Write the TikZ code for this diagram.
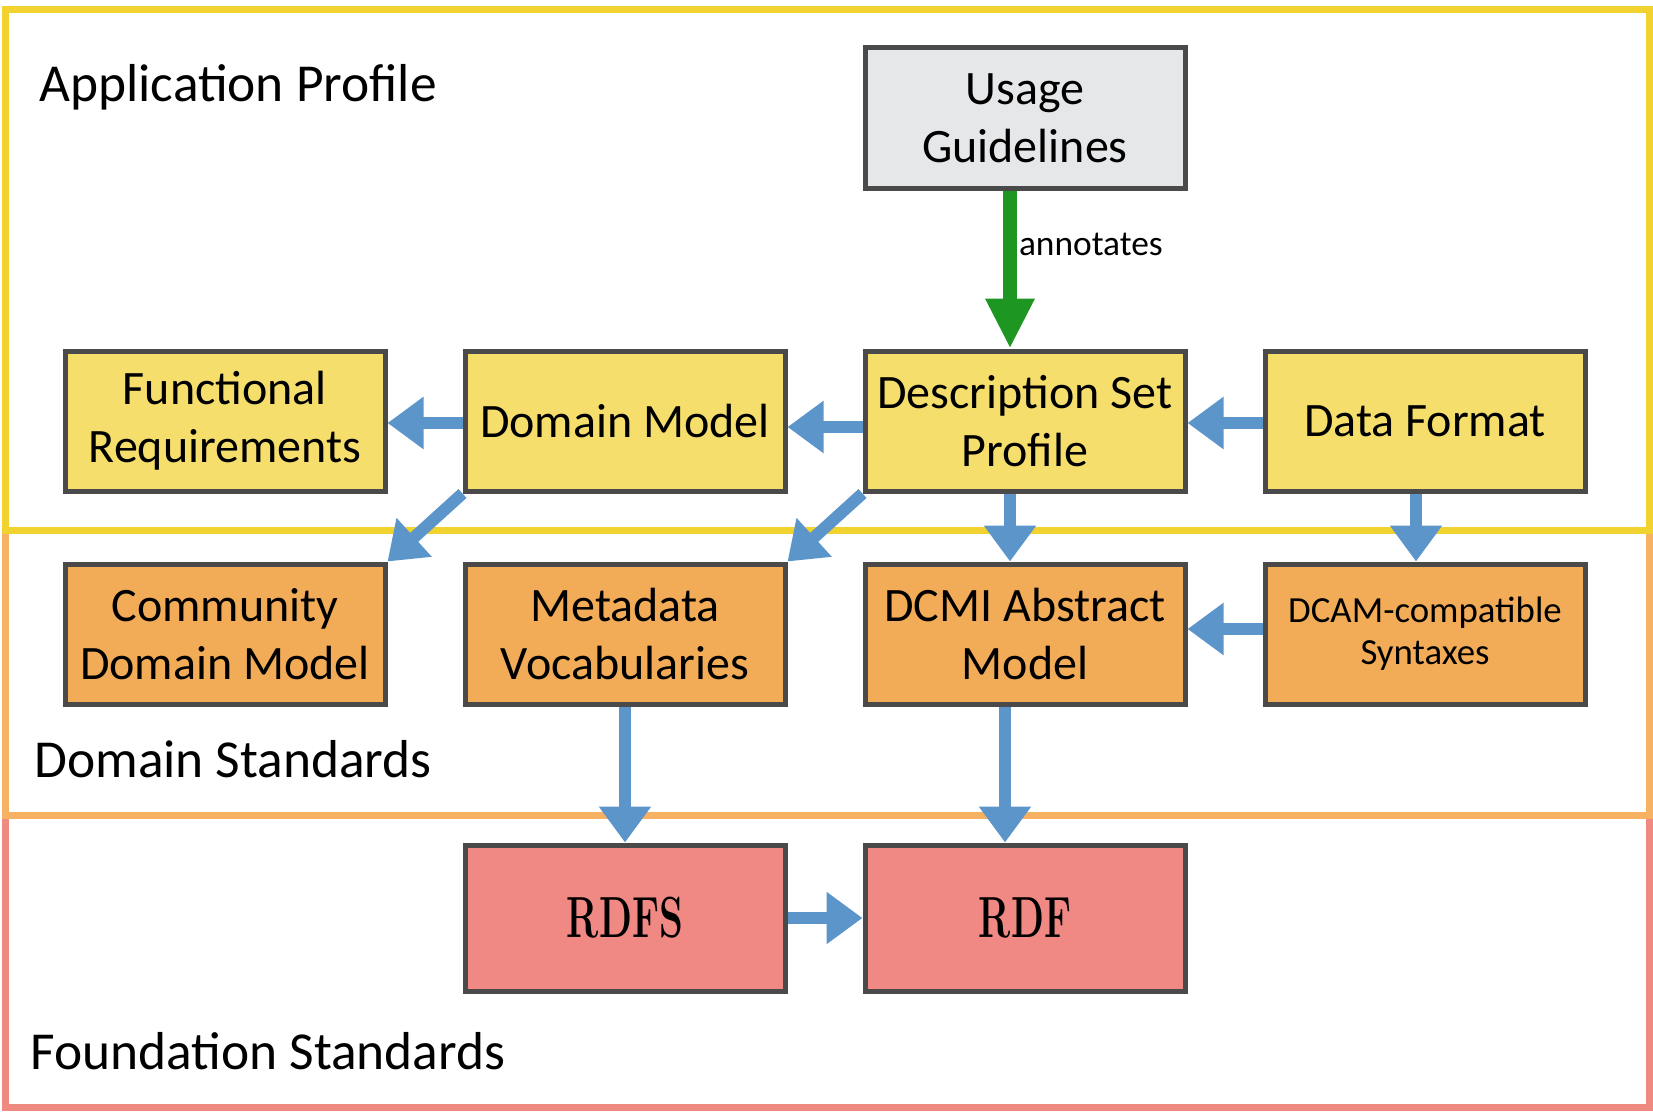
\documentclass[tikz,border=0pt]{standalone}
\usepackage{fontspec}
\newfontfamily\carlito{Carlito}
\usetikzlibrary{arrows.meta,positioning}
\definecolor{apfill}{HTML}{F5DE6B}
\definecolor{dsfill}{HTML}{F2AC58}
\definecolor{fsfill}{HTML}{F08884}
\definecolor{ugfill}{HTML}{E6E7E9}
\definecolor{boxline}{HTML}{4A4A4A}
\definecolor{apline}{HTML}{F2D22E}
\definecolor{dsline}{HTML}{F6B262}
\definecolor{fsline}{HTML}{F08A80}
\definecolor{flowblue}{HTML}{5B95CA}
\definecolor{annotgreen}{HTML}{1E9622}

\begin{document}
\begin{tikzpicture}[
        x=0.5pt, y=-0.5pt,
        font=\carlito,
        box/.style={
            rectangle,
            draw=boxline,
            line width=2.5pt,
            minimum width=160pt,
            minimum height=70pt,
            inner sep=2pt,
            align=center,
            font=\carlito\fontsize{24}{29}\selectfont
        },
        ap box/.style={box, fill=apfill},
        ds box/.style={box, fill=dsfill},
        fs box/.style={box, fill=fsfill, minimum height=73pt, font=\rmfamily\bfseries\fontsize{29}{32}\selectfont},
        ug box/.style={box, fill=ugfill},
        flow/.style={-{Triangle[width=25pt,length=18pt]}, line width=6pt, draw=flowblue},
        region_label/.style={anchor=base west, inner sep=0pt, font=\carlito\fontsize{26.7}{32}\selectfont}
    ]
        \useasboundingbox (0,0) rectangle (1653,1113);

        % --- LAYERS ---
        \draw[line width=3.5pt, fsline] (5,815) rectangle (1649,1107);
        \draw[line width=3.5pt, dsline] (5,530) rectangle (1649,815);
        \draw[line width=3.5pt, apline] (5,10) rectangle (1649,530);

        \node[region_label] (aplabel) at (39,102) {Application Profile};
        \node[region_label] (dslabel) at (34,777) {Domain Standards};
        \node[region_label] (fslabel) at (30,1069) {Foundation Standards};

        % --- APPLICATION PROFILE ROW ---
        \node[ap box] (fr) at (225,421) {Functional\\Requirements};
        \node[ap box, right=37.5pt of fr] (dm) {Domain Model};
        \node[ap box, right=37.5pt of dm] (dsp) {Description Set\\Profile};
        \node[ap box, right=37.5pt of dsp] (df) {Data Format};
        \node[ug box, above=79pt of dsp] (ug) {Usage\\Guidelines};

        % --- DOMAIN STANDARDS ROW ---
        \node[ds box, below=34pt of fr] (cdm) {Community\\Domain Model};
        \node[ds box, below=34pt of dm] (mv) {Metadata\\Vocabularies};
        \node[ds box, below=34pt of dsp] (dcmi) {DCMI Abstract\\Model};
        \node[ds box, below=34pt of df, font=\carlito\fontsize{18.4}{21}\selectfont] (dcam) {DCAM-compatible\\Syntaxes};

        % --- FOUNDATION STANDARDS ROW ---
        \node[fs box, below=68pt of mv] (rdfs) {\scalebox{0.66}[1]{RDFS}};
        \node[fs box, below=68pt of dcmi] (rdf) {\scalebox{0.66}[1]{RDF}};

        % --- ANNOTATION ---
        \draw[-{Triangle[width=23pt,length=25pt]}, line width=7pt, annotgreen]
            ([xshift=-7.5pt]ug.south) -- ([xshift=-7.5pt]dsp.north)
            node[pos=0.34, anchor=west, inner sep=0pt, xshift=1pt, text=black,
                 font=\carlito\fontsize{17.7}{21}\selectfont] {annotates};

        % --- FLOWS ---
        \draw[flow] ([yshift=-1pt]dm.west) -- ([yshift=-1pt]fr.east);
        \draw[flow] ([yshift=-3pt]dsp.west) -- ([yshift=-3pt]dm.east);
        \draw[flow] ([yshift=-1pt]df.west) -- ([yshift=-1pt]dsp.east);
        \draw[flow] (dm.south west) -- (cdm.north east);
        \draw[flow] (dsp.south west) -- (mv.north east);
        \draw[flow] ([xshift=-7.5pt]dsp.south) -- ([xshift=-7.5pt]dcmi.north);
        \draw[flow] ([xshift=-4.5pt]df.south) -- ([xshift=-4.5pt]dcam.north);
        \draw[flow] ([yshift=2.5pt]dcam.west) -- ([yshift=2.5pt]dcmi.east);
        \draw[flow] (mv.south) -- (rdfs.north);
        \draw[flow] ([xshift=-10pt]dcmi.south) -- ([xshift=-10pt]rdf.north);
        \draw[flow] (rdfs.east) -- (rdf.west);

    \end{tikzpicture}
\end{document}
